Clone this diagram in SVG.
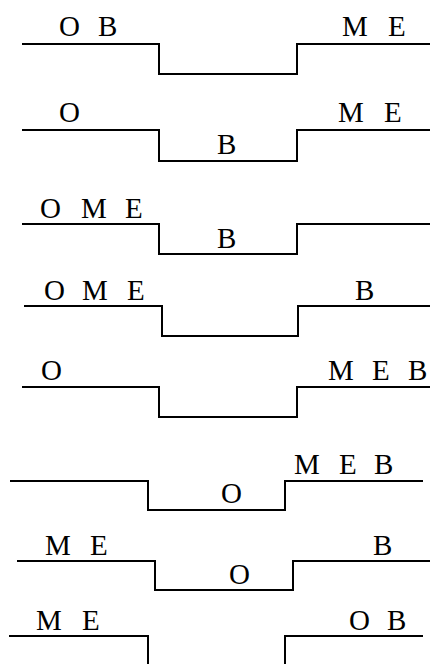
<svg xmlns="http://www.w3.org/2000/svg" width="430" height="664" viewBox="0 0 430 664">
<style>
.w{fill:none;stroke:#000;stroke-width:2}
.t{font-family:"Liberation Serif","Times New Roman",serif;font-size:29px;fill:#000}
</style>
<rect width="430" height="664" fill="#fff"/>
<g id="s1">
<path class="w" d="M22 44H159V74H297V44H430"/>
<text class="t" x="59 98" y="36">OB</text>
<text class="t" x="342 388" y="36">ME</text>
</g>
<g id="s2">
<path class="w" d="M22 130H159V161H297V130H430"/>
<text class="t" x="59" y="122">O</text>
<text class="t" x="338 384" y="122">ME</text>
<text class="t" x="217" y="154">B</text>
</g>
<g id="s3">
<path class="w" d="M22 224H159V254H297V224H430"/>
<text class="t" x="40 81 125" y="218">OME</text>
<text class="t" x="217" y="248">B</text>
</g>
<g id="s4">
<path class="w" d="M24 306H162V336H298V306H430"/>
<text class="t" x="44 82 127" y="300">OME</text>
<text class="t" x="355" y="300">B</text>
</g>
<g id="s5">
<path class="w" d="M22 387H159V417H297V387H430"/>
<text class="t" x="41" y="380">O</text>
<text class="t" x="328 372 408" y="380">MEB</text>
</g>
<g id="s6">
<path class="w" d="M10 481H148V510H285V481H423"/>
<text class="t" x="294 339 374" y="474">MEB</text>
<text class="t" x="221" y="503">O</text>
</g>
<g id="s7">
<path class="w" d="M17 561H155V590H293V561H430"/>
<text class="t" x="45 90" y="555">ME</text>
<text class="t" x="373" y="555">B</text>
<text class="t" x="229" y="584">O</text>
</g>
<g id="s8">
<path class="w" d="M9 636H148V666M285 666V636H423"/>
<text class="t" x="36 82" y="630">ME</text>
<text class="t" x="349 387" y="630">OB</text>
</g>
</svg>
